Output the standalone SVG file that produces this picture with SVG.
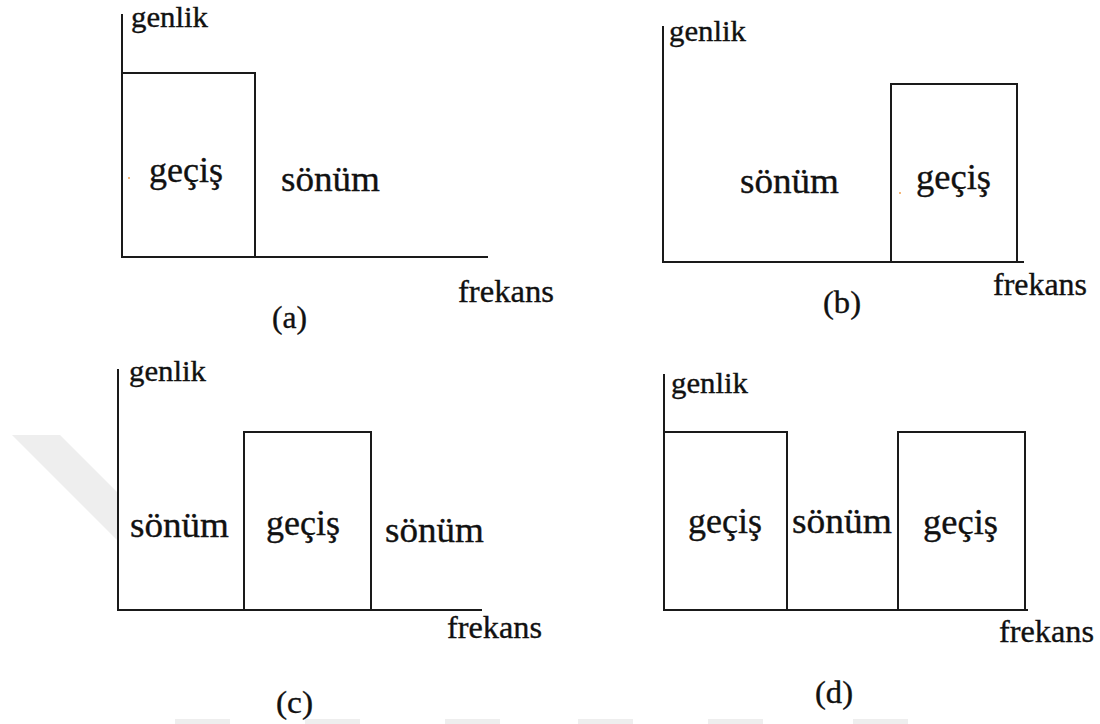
<svg xmlns="http://www.w3.org/2000/svg" width="1100" height="724" viewBox="0 0 1100 724">
  <style>
    .ax { fill: none; stroke: #1a1a1a; stroke-width: 2; stroke-linecap: square; }
    .band { fill: none; stroke: #1a1a1a; stroke-width: 2; }
    .wm { fill: #eeeeee; }
    text { font-family: "Liberation Serif", "Times New Roman", serif; fill: #111111; stroke: #111111; stroke-width: 0.35; }
    .axl { font-size: 29px; }
    .fr { font-size: 32px; }
    .lbl { font-size: 36px; }
    .cap { font-size: 31px; }
  </style>

  <rect width="1100" height="724" fill="#ffffff"/>

  <!-- faint background mark -->
  <g id="backdrop">
    <polygon class="wm" points="12,435 60,435 117,492 117,540"/>
    <rect class="wm" x="175" y="719" width="55" height="5"/>
    <rect class="wm" x="305" y="719" width="55" height="5"/>
    <rect class="wm" x="445" y="719" width="55" height="5"/>
    <rect class="wm" x="578" y="719" width="55" height="5"/>
    <rect class="wm" x="708" y="719" width="55" height="5"/>
    <rect class="wm" x="853" y="719" width="55" height="5"/>
  </g>

  <!-- axes and pass bands -->
  <g id="connectors">
    <!-- (a) low-pass -->
    <polyline class="ax" points="122,15 122,257 487,257"/>
    <polyline class="band" points="122,73 255,73 255,257"/>
    <!-- (b) high-pass -->
    <polyline class="ax" points="663,27 663,262 1023,262"/>
    <rect class="band" x="891" y="84" width="126" height="178"/>
    <!-- (c) band-pass -->
    <polyline class="ax" points="118,370 118,610 481,610"/>
    <rect class="band" x="244" y="432" width="127" height="178"/>
    <!-- (d) band-stop -->
    <polyline class="ax" points="664,375 664,610 1027,610"/>
    <polyline class="band" points="664,432 787,432 787,610"/>
    <rect class="band" x="898" y="432" width="127" height="178"/>
  </g>

  <g id="panel-a">
    <text class="axl" x="131" y="27" textLength="77" lengthAdjust="spacingAndGlyphs">genlik</text>
    <text class="lbl" x="149" y="182" textLength="74" lengthAdjust="spacingAndGlyphs">geçiş</text>
    <text class="lbl" x="281" y="191" textLength="99" lengthAdjust="spacingAndGlyphs">sönüm</text>
    <text class="fr" x="458" y="302" textLength="96" lengthAdjust="spacingAndGlyphs">frekans</text>
    <text class="cap" x="272" y="328" textLength="35" lengthAdjust="spacingAndGlyphs">(a)</text>
    <circle cx="129" cy="178" r="1" fill="#f0a050"/>
  </g>

  <g id="panel-b">
    <text class="axl" x="669" y="41" textLength="77" lengthAdjust="spacingAndGlyphs">genlik</text>
    <text class="lbl" x="740" y="193" textLength="99" lengthAdjust="spacingAndGlyphs">sönüm</text>
    <text class="lbl" x="916" y="189" textLength="75" lengthAdjust="spacingAndGlyphs">geçiş</text>
    <text class="fr" x="993" y="295" textLength="94" lengthAdjust="spacingAndGlyphs">frekans</text>
    <text class="cap" x="823" y="313" textLength="38" lengthAdjust="spacingAndGlyphs">(b)</text>
    <circle cx="900" cy="193" r="1" fill="#f0a050"/>
  </g>

  <g id="panel-c">
    <text class="axl" x="129" y="381" textLength="77" lengthAdjust="spacingAndGlyphs">genlik</text>
    <text class="lbl" x="130" y="537" textLength="99" lengthAdjust="spacingAndGlyphs">sönüm</text>
    <text class="lbl" x="266" y="535" textLength="74" lengthAdjust="spacingAndGlyphs">geçiş</text>
    <text class="lbl" x="385" y="542" textLength="99" lengthAdjust="spacingAndGlyphs">sönüm</text>
    <text class="fr" x="447" y="638" textLength="95" lengthAdjust="spacingAndGlyphs">frekans</text>
    <text class="cap" x="276" y="713" textLength="37" lengthAdjust="spacingAndGlyphs">(c)</text>
  </g>

  <g id="panel-d">
    <text class="axl" x="671" y="393" textLength="77" lengthAdjust="spacingAndGlyphs">genlik</text>
    <text class="lbl" x="688" y="533" textLength="74" lengthAdjust="spacingAndGlyphs">geçiş</text>
    <text class="lbl" x="792" y="533" textLength="100" lengthAdjust="spacingAndGlyphs">sönüm</text>
    <text class="lbl" x="923" y="534" textLength="75" lengthAdjust="spacingAndGlyphs">geçiş</text>
    <text class="fr" x="999" y="642" textLength="95" lengthAdjust="spacingAndGlyphs">frekans</text>
    <text class="cap" x="815" y="703" textLength="38" lengthAdjust="spacingAndGlyphs">(d)</text>
  </g>
</svg>
